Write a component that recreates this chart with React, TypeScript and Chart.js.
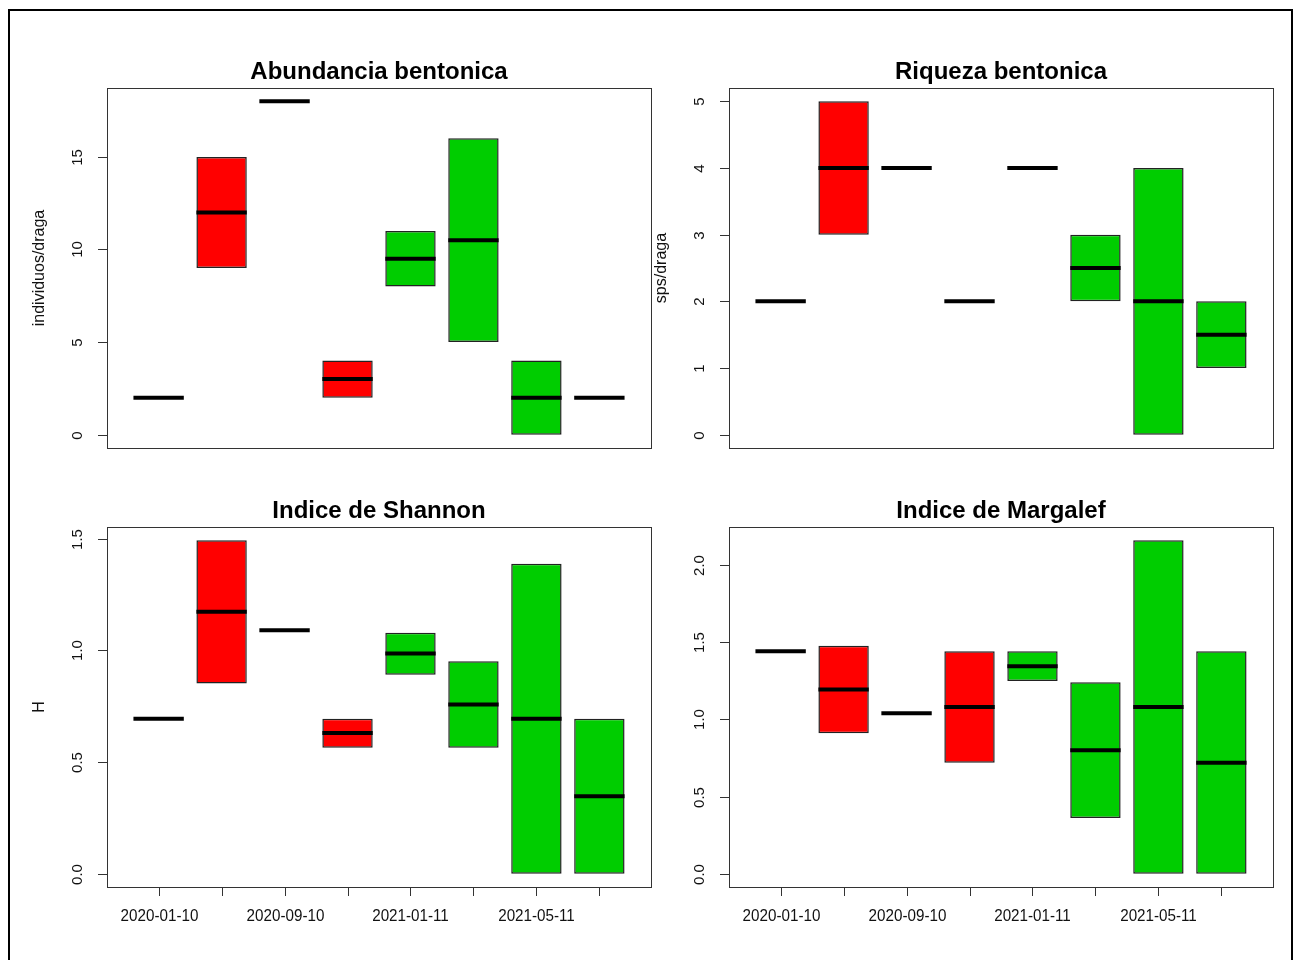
import React, { useEffect, useRef } from "react";
import { Chart, registerables } from "chart.js";

Chart.register(...registerables);

// Sampling dates (only every other label fits under the axis)
const xTickLabels = ["2020-01-10", "", "2020-09-10", "", "2021-01-11", "", "2021-05-11", ""];
const boxColors = ["#FF0000", "#FF0000", "#FF0000", "#FF0000", "#00CD00", "#00CD00", "#00CD00", "#00CD00"];

// Abundancia bentonica (individuos/draga)
const abundLow = [2, 9, 18, 2, 8, 5, 0, 2];
const abundHigh = [2, 15, 18, 4, 11, 16, 4, 2];
const abundMed = [2, 12, 18, 3, 9.5, 10.5, 2, 2];
const abundTicks = ["0", "5", "10", "15"];

// Riqueza bentonica (sps/draga)
const riqLow = [2, 3, 4, 2, 4, 2, 0, 1];
const riqHigh = [2, 5, 4, 2, 4, 3, 4, 2];
const riqMed = [2, 4, 4, 2, 4, 2.5, 2, 1.5];
const riqTicks = ["0", "1", "2", "3", "4", "5"];

// Indice de Shannon (H)
const shanLow = [0.693, 0.851, 1.089, 0.564, 0.89, 0.564, 0, 0];
const shanHigh = [0.693, 1.492, 1.089, 0.693, 1.078, 0.951, 1.387, 0.693];
const shanMed = [0.693, 1.172, 1.089, 0.63, 0.985, 0.757, 0.693, 0.347];
const shanTicks = ["0.0", "0.5", "1.0", "1.5"];

// Indice de Margalef
const margLow = [1.443, 0.91, 1.04, 0.72, 1.25, 0.361, 0, 0];
const margHigh = [1.443, 1.479, 1.04, 1.443, 1.443, 1.241, 2.162, 1.443];
const margMed = [1.443, 1.194, 1.04, 1.081, 1.345, 0.8, 1.081, 0.72];
const margTicks = ["0.0", "0.5", "1.0", "1.5", "2.0"];

const FONT = '"Liberation Sans", Arial, Helvetica, sans-serif';

type PanelProps = {
  title: string;
  yLabel: string;
  low: number[];
  high: number[];
  med: number[];
  yTicks: string[];
  showX: boolean;
  left: number;
  top: number;
  width: number;
  height: number;
  padding: { left: number; top: number; right: number; bottom: number };
};

function Panel(props: PanelProps) {
  const ref = useRef<HTMLCanvasElement | null>(null);

  useEffect(() => {
    const canvas = ref.current;
    if (!canvas) return;
    const { title, yLabel, low, high, med, yTicks, showX } = props;

    // R-style axis range: data range widened by 4% on each side
    const dMin = Math.min(...low);
    const dMax = Math.max(...high);
    const ext = (dMax - dMin) * 0.04;
    const n = low.length;
    const xExt = n * 0.04;

    const boxPlugin = {
      id: "rBoxDecor",
      afterDatasetsDraw(chart: any) {
        const ctx = chart.ctx as CanvasRenderingContext2D;
        const area = chart.chartArea;
        const ys = chart.scales.y;
        const xs = chart.scales.x;
        const meta = chart.getDatasetMeta(0);
        ctx.save();

        // medians
        ctx.strokeStyle = "#000";
        ctx.lineWidth = 4;
        ctx.lineCap = "butt";
        meta.data.forEach((bar: any, i: number) => {
          const y = ys.getPixelForValue(med[i]);
          const hw = bar.width / 2;
          ctx.beginPath();
          ctx.moveTo(bar.x - hw, y);
          ctx.lineTo(bar.x + hw, y);
          ctx.stroke();
        });

        // plot frame
        ctx.strokeStyle = "#333";
        ctx.lineWidth = 1;
        ctx.strokeRect(
          Math.round(area.left) + 0.5,
          Math.round(area.top) + 0.5,
          Math.round(area.right - area.left),
          Math.round(area.bottom - area.top)
        );

        // y axis ticks and labels
        ctx.fillStyle = "#111";
        ctx.font = `15px ${FONT}`;
        yTicks.forEach((lab) => {
          const y = Math.round(ys.getPixelForValue(parseFloat(lab))) + 0.5;
          ctx.beginPath();
          ctx.moveTo(area.left - 9, y);
          ctx.lineTo(area.left, y);
          ctx.stroke();
          ctx.save();
          ctx.translate(area.left - 29, y);
          ctx.rotate(-Math.PI / 2);
          ctx.textAlign = "center";
          ctx.textBaseline = "middle";
          ctx.fillText(lab, 0, 0);
          ctx.restore();
        });

        // x axis ticks and labels
        if (showX) {
          xTickLabels.forEach((lab, i) => {
            const x = Math.round(xs.getPixelForValue(i + 1)) + 0.5;
            ctx.beginPath();
            ctx.moveTo(x, area.bottom);
            ctx.lineTo(x, area.bottom + 9);
            ctx.stroke();
            if (lab) {
              ctx.save();
              ctx.translate(x, area.bottom + 30);
              ctx.scale(0.95, 1);
              ctx.font = `16px ${FONT}`;
              ctx.textAlign = "center";
              ctx.textBaseline = "middle";
              ctx.fillText(lab, 0, 0);
              ctx.restore();
            }
          });
        }

        // y axis title
        ctx.save();
        ctx.font = `16px ${FONT}`;
        ctx.translate(area.left - 67, (area.top + area.bottom) / 2);
        ctx.rotate(-Math.PI / 2);
        ctx.textAlign = "center";
        ctx.textBaseline = "middle";
        ctx.fillText(yLabel, 0, 0);
        ctx.restore();

        // main title
        ctx.fillStyle = "#000";
        ctx.font = `bold 24px ${FONT}`;
        ctx.textAlign = "center";
        ctx.textBaseline = "alphabetic";
        ctx.fillText(title, (area.left + area.right) / 2, area.top - 9);

        ctx.restore();
      },
    };

    const chart = new Chart(canvas, {
      type: "bar",
      data: {
        datasets: [
          {
            data: low.map((l, i) => ({ x: i + 1, y: [l, high[i]] })) as any,
            backgroundColor: boxColors,
            borderColor: "#222",
            borderWidth: 1.5,
            borderSkipped: false,
            categoryPercentage: 1,
            barPercentage: 0.8,
          },
        ],
      },
      options: {
        animation: false,
        responsive: false,
        events: [],
        layout: { padding: props.padding },
        plugins: {
          legend: { display: false },
          tooltip: { enabled: false },
          title: { display: false },
        },
        scales: {
          x: {
            type: "linear",
            min: 1 - 0.5 - xExt,
            max: n + 0.5 + xExt,
            offset: false,
            display: false,
            // one tick per group, so the bar ruler spaces boxes one unit apart
            afterBuildTicks: (scale: any) => {
              scale.ticks = low.map((_, i) => ({ value: i + 1 }));
            },
          },
          y: { type: "linear", min: dMin - ext, max: dMax + ext, display: false },
        },
      },
      plugins: [boxPlugin],
    });

    return () => chart.destroy();
  }, []);

  return (
    <canvas
      ref={ref}
      width={props.width}
      height={props.height}
      style={{ position: "absolute", left: props.left, top: props.top, width: props.width, height: props.height }}
    />
  );
}

export default function App() {
  const padTopRow = { top: 88, bottom: 32 };
  const padBottomRow = { top: 47, bottom: 73 };
  const padLeftCol = { left: 107, right: 4 };
  const padRightCol = { left: 84, right: 26 };
  return (
    <div
      style={{
        position: "fixed",
        left: 0,
        top: 0,
        width: 1299,
        height: 960,
        background: "#fff",
        overflow: "hidden",
      }}
    >
      <div
        style={{
          position: "absolute",
          left: 8,
          top: 9,
          width: 1285,
          height: 1000,
          border: "2px solid #000",
          boxSizing: "border-box",
        }}
      />
      <Panel
        title="Abundancia bentonica"
        yLabel="individuos/draga"
        low={abundLow}
        high={abundHigh}
        med={abundMed}
        yTicks={abundTicks}
        showX={false}
        left={0}
        top={0}
        width={655}
        height={480}
        padding={{ ...padLeftCol, ...padTopRow }}
      />
      <Panel
        title="Riqueza bentonica"
        yLabel="sps/draga"
        low={riqLow}
        high={riqHigh}
        med={riqMed}
        yTicks={riqTicks}
        showX={false}
        left={645}
        top={0}
        width={654}
        height={480}
        padding={{ ...padRightCol, ...padTopRow }}
      />
      <Panel
        title="Indice de Shannon"
        yLabel="H"
        low={shanLow}
        high={shanHigh}
        med={shanMed}
        yTicks={shanTicks}
        showX={true}
        left={0}
        top={480}
        width={655}
        height={480}
        padding={{ ...padLeftCol, ...padBottomRow }}
      />
      <Panel
        title="Indice de Margalef"
        yLabel=""
        low={margLow}
        high={margHigh}
        med={margMed}
        yTicks={margTicks}
        showX={true}
        left={645}
        top={480}
        width={654}
        height={480}
        padding={{ ...padRightCol, ...padBottomRow }}
      />
    </div>
  );
}
